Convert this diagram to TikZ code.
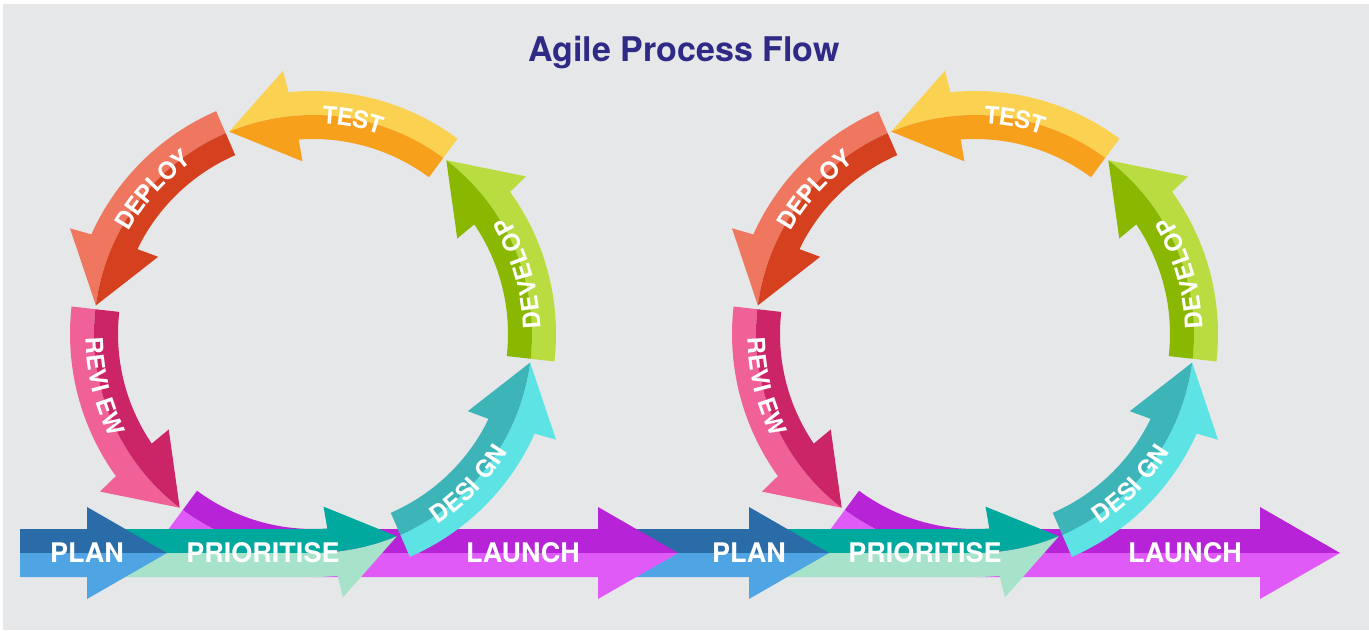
\documentclass[tikz,border=0pt]{standalone}
\usepackage{fontspec}
\setmainfont{TeX Gyre Heros}
\usetikzlibrary{decorations.text}

\definecolor{bggray}{HTML}{E6E7E9}
\definecolor{titleblue}{HTML}{2E2A85}
\definecolor{plandark}{HTML}{2A6CA8}
\definecolor{planlite}{HTML}{4FA4E4}
\definecolor{prioritisedark}{HTML}{00A99D}
\definecolor{prioritiselite}{HTML}{A7E2CA}
\definecolor{launchdark}{HTML}{B723D6}
\definecolor{launchlite}{HTML}{E05AF8}
\definecolor{designdark}{HTML}{3DB5B8}
\definecolor{designlite}{HTML}{5EE3E5}
\definecolor{developdark}{HTML}{8AB800}
\definecolor{developlite}{HTML}{B9DD41}
\definecolor{testdark}{HTML}{F7A01B}
\definecolor{testlite}{HTML}{FBD152}
\definecolor{deploydark}{HTML}{D5411E}
\definecolor{deploylite}{HTML}{EF765F}
\definecolor{reviewdark}{HTML}{CC2567}
\definecolor{reviewlite}{HTML}{F06198}

% radii of the loop: inner edge, middle, outer edge, arrow barbs
\newcommand\ringin{195pt}
\newcommand\ringmid{219pt}
\newcommand\ringout{243pt}
\newcommand\barbin{173pt}
\newcommand\barbout{265pt}
\newcommand\looplabel{\fontsize{24}{24}\selectfont\bfseries}

\begin{document}
\begin{tikzpicture}[
    x=1pt, y=1pt,
    flowlabel/.style={text=white, font=\fontsize{27}{27}\selectfont\bfseries},
    looptext/.style={decorate, decoration={text along path, text={|\looplabel|#1},
        text align=center, raise=-8.6pt, text color=white}}
]
\useasboundingbox (0,0) rectangle (1369,630);
\fill[white] (0,0) rectangle (1369,630);
\fill[bggray] (3,0) rectangle (1369,626);

\node[font=\fontsize{34}{34}\selectfont\bfseries, text=titleblue, anchor=base] (title) at (684,568) {Agile Process Flow};

% right loop first, so the left launch arrow lies over the next plan arrow
\foreach \dx/\planfrom in {662/-375, 0/-293} {
\begin{scope}[shift={(313+\dx,296)}]
    % Launch: runs along the bottom of the loop, then straight out
    \fill[launchdark] (233.5:\ringin) arc[start angle=233.5, end angle=270, radius=\ringin]
        -- (285,-195) -- (285,-173) -- (365,-219) -- (0,-219)
        arc[start angle=270, end angle=233.5, radius=\ringmid] -- cycle;
    \fill[launchlite] (233.5:\ringout) arc[start angle=233.5, end angle=270, radius=\ringout]
        -- (285,-243) -- (285,-265) -- (365,-219) -- (0,-219)
        arc[start angle=270, end angle=233.5, radius=\ringmid] -- cycle;

    % Prioritise: comes in straight, bends up into the loop
    \fill[prioritisedark] (-213,-219) -- (-213,-195) -- (0,-195)
        arc[start angle=270, end angle=274.2, radius=\ringin]
        -- (273.5:\barbin) -- (292.5:\ringmid)
        arc[start angle=292.5, end angle=270, radius=\ringmid] -- cycle;
    \fill[prioritiselite] (-213,-219) -- (-213,-243) -- (0,-243)
        arc[start angle=270, end angle=275.8, radius=\ringout]
        -- (276.5:\barbout) -- (292.5:\ringmid)
        arc[start angle=292.5, end angle=270, radius=\ringmid] -- cycle;

    % Plan
    \fill[plandark] (\planfrom,-219) -- (\planfrom,-195) -- (-226,-195) -- (-226,-173) -- (-146,-219) -- cycle;
    \fill[planlite] (\planfrom,-219) -- (\planfrom,-243) -- (-226,-243) -- (-226,-265) -- (-146,-219) -- cycle;

    % curved arrows of the loop, outer half light, inner half dark
    \foreach \t/\lite/\dark in {173.5/reviewlite/reviewdark, 113.5/deploylite/deploydark,
            53.5/testlite/testdark, -6.5/developlite/developdark, -66.5/designlite/designdark} {
        \fill[\lite] (\t:\ringout) arc[start angle=\t, end angle=\t+42.3, radius=\ringout]
            -- (\t+43:\barbout) -- (\t+59:\ringmid)
            arc[start angle=\t+59, end angle=\t, radius=\ringmid] -- cycle;
        \fill[\dark] (\t:\ringin) arc[start angle=\t, end angle=\t+40.7, radius=\ringin]
            -- (\t+40:\barbin) -- (\t+59:\ringmid)
            arc[start angle=\t+59, end angle=\t, radius=\ringmid] -- cycle;
    }

    % labels
    \node[flowlabel] (plan\dx) at (-226,-219) {PLAN};
    \node[flowlabel] (prioritise\dx) at (-50,-219) {PRIORITISE};
    \node[flowlabel] (launch\dx) at (210,-219) {LAUNCH};

    \path[looptext=TEST] (109.5:\ringmid) arc[start angle=109.5, end angle=49.5, radius=\ringmid];
    \path[looptext=DEPLOY] (168:\ringmid) arc[start angle=168, end angle=108, radius=\ringmid];
    \path[looptext=REVI EW] (164:\ringmid) arc[start angle=164, end angle=224, radius=\ringmid];
    \path[looptext=DESI GN] (286:\ringmid) arc[start angle=286, end angle=346, radius=\ringmid];
    \path[looptext=DEVELOP] (-13.6:\ringmid) arc[start angle=-13.6, end angle=46.4, radius=\ringmid];
\end{scope}
}
\end{tikzpicture}
\end{document}
